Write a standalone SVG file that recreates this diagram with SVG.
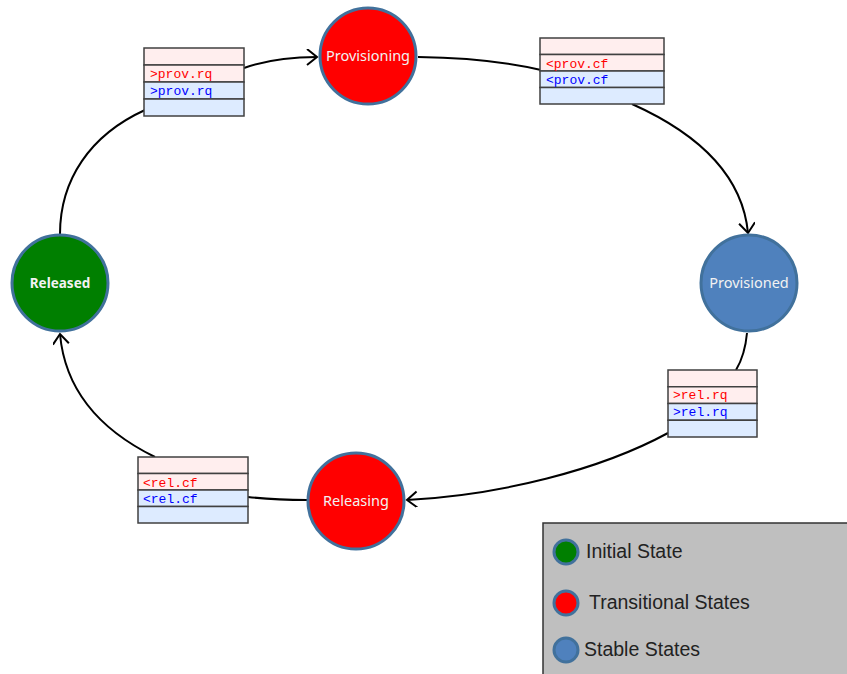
<svg xmlns="http://www.w3.org/2000/svg" width="847" height="674" viewBox="0 0 847 674">
<defs>
<marker id="arr" markerUnits="userSpaceOnUse" markerWidth="16" markerHeight="20" refX="11" refY="8" orient="auto" viewBox="0 0 16 20">
<path d="M1,0 L11,8 L1,16" fill="none" stroke="#000" stroke-width="2"/>
</marker>
</defs>
<style>
.node{stroke:#41719C;stroke-width:3}
.red{fill:#FF0000}
.green{fill:#007F00}
.blue{fill:#4F81BD}
.lbl{font-family:"Noto Sans","Open Sans",sans-serif;font-size:14.5px;fill:#F2F2F2;text-anchor:middle}
.conn{fill:none;stroke:#000;stroke-width:2}
.pink{fill:#FFEEEE;stroke:#404040;stroke-width:1.5}
.lb{fill:#DDEBFF;stroke:#404040;stroke-width:1.5}
.mono{font-family:"Liberation Mono","Courier New",monospace;font-size:13px}
.tr{fill:#FF0000}
.tb{fill:#0000FF}
.leg{font-family:"Liberation Sans",Arial,sans-serif;font-size:19.5px;fill:#222}
</style>
<rect width="847" height="674" fill="#fff"/>
<g id="connectors">
<path class="conn" d="M60,234 C60,180 90,135 145,110"/>
<path class="conn" d="M244,68 Q275,57 317,57" marker-end="url(#arr)"/>
<path class="conn" d="M418,57 Q490,58 541,70"/>
<path class="conn" d="M632,104 C690,130 742,170 748,233" marker-end="url(#arr)"/>
<path class="conn" d="M747,333 Q745,355 736,370"/>
<path class="conn" d="M668,433 C600,470 500,495 407,500" marker-end="url(#arr)"/>
<path class="conn" d="M307,500 Q275,500 248,497"/>
<path class="conn" d="M155,457 C100,430 65,390 60,334" marker-end="url(#arr)"/>
</g>
<g id="table1">
<rect class="pink" x="144" y="48" width="100" height="17"/>
<rect class="pink" x="144" y="65" width="100" height="17"/>
<rect class="lb" x="144" y="82" width="100" height="17"/>
<rect class="lb" x="144" y="99" width="100" height="17"/>
<text class="mono tr" x="150" y="78">&gt;prov.rq</text>
<text class="mono tb" x="150" y="95">&gt;prov.rq</text>
</g>
<g id="table2">
<rect class="pink" x="540" y="38" width="124" height="16.5"/>
<rect class="pink" x="540" y="54.5" width="124" height="16.5"/>
<rect class="lb" x="540" y="71" width="124" height="16.5"/>
<rect class="lb" x="540" y="87.5" width="124" height="16.5"/>
<text class="mono tr" x="546" y="67.5">&lt;prov.cf</text>
<text class="mono tb" x="546" y="84">&lt;prov.cf</text>
</g>
<g id="table3">
<rect class="pink" x="668" y="370" width="89" height="16.75"/>
<rect class="pink" x="668" y="386.75" width="89" height="16.75"/>
<rect class="lb" x="668" y="403.5" width="89" height="16.75"/>
<rect class="lb" x="668" y="420.25" width="89" height="16.75"/>
<text class="mono tr" x="673" y="399">&gt;rel.rq</text>
<text class="mono tb" x="673" y="416">&gt;rel.rq</text>
</g>
<g id="table4">
<rect class="pink" x="138" y="457" width="110" height="16.5"/>
<rect class="pink" x="138" y="473.5" width="110" height="16.5"/>
<rect class="lb" x="138" y="490" width="110" height="16.5"/>
<rect class="lb" x="138" y="506.5" width="110" height="16.5"/>
<text class="mono tr" x="143" y="486.5">&lt;rel.cf</text>
<text class="mono tb" x="143" y="503">&lt;rel.cf</text>
</g>
<g id="provisioning">
<circle class="node red" cx="368" cy="56" r="48"/>
<text class="lbl" x="368" y="61">Provisioning</text>
</g>
<g id="provisioned">
<circle class="node blue" cx="749" cy="283" r="48"/>
<text class="lbl" x="749" y="288">Provisioned</text>
</g>
<g id="releasing">
<circle class="node red" cx="356" cy="501" r="48"/>
<text class="lbl" x="356" y="506">Releasing</text>
</g>
<g id="released">
<circle class="node green" cx="60" cy="283" r="48"/>
<text class="lbl" x="60" y="288" font-weight="bold" font-size="13.5px" style="font-size:13.5px">Released</text>
</g>
<g id="legend">
<rect x="543" y="523" width="310" height="160" fill="#BFBFBF" stroke="#333" stroke-width="1.5"/>
<circle class="node green" cx="566" cy="552" r="12"/>
<text class="leg" x="586" y="558">Initial State</text>
<circle class="node red" cx="566" cy="603" r="12"/>
<text class="leg" x="589" y="609">Transitional States</text>
<circle class="node blue" cx="566" cy="650" r="12"/>
<text class="leg" x="584" y="656">Stable States</text>
</g>
</svg>
